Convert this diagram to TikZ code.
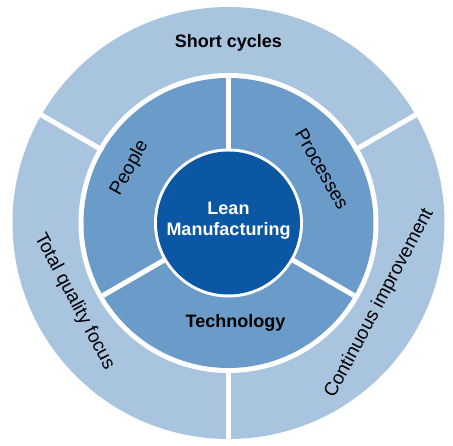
\documentclass[tikz,border=0pt]{standalone}
\usepackage{fontspec}
\setmainfont{Liberation Sans}
\usetikzlibrary{
  backgrounds,  % Predefined layer named "background"
}
\definecolor{outerblue}{HTML}{A9C4DF}
\definecolor{midblue}{HTML}{6B9CC9}
\definecolor{coreblue}{HTML}{0C57A3}
\def\rcore{71.5pt}
\def\rcorerim{74.5pt}
\def\rmid{145pt}
\def\rmidrim{150pt}
\def\router{216pt}
\def\gapwidth{5pt}
\tikzset{
  font=\fontsize{19}{22}\selectfont,
  gap/.style={
    draw=white,
    line width=\gapwidth
  },
  my label/.style={
    text=black,
    inner sep=0pt
  },
  my bold label/.style={
    my label,
    font=\fontsize{18}{21}\selectfont\bfseries
  }
}

\begin{document}
\begin{tikzpicture}[x=1pt,y=1pt]
\useasboundingbox (-228.5,-223) rectangle (224.5,223);
% rings
\fill[outerblue] (0,0) circle[radius=\router];
\fill[white]     (0,0) circle[radius=\rmidrim];
\fill[midblue]   (0,0) circle[radius=\rmid];
\foreach \a in {30,150,270}
  \draw[gap] (\a:\rmid) -- (\a:222pt);
\foreach \a in {90,210,330}
  \draw[gap] (\a:70pt) -- (\a:\rmid);
\fill[white]    (0,0) circle[radius=\rcorerim];
\fill[coreblue] (0,0) circle[radius=\rcore];
% labels
\node[my bold label,text=white,align=center] (lean) at (0,2) {Lean\\Manufacturing};
\node[my bold label] (shortcycles) at (0,180) {Short cycles};
\node[my bold label] (technology)  at (7,-100) {Technology};
\node[my label,rotate=61]  (people)      at (151:113pt) {People};
\node[my label,rotate=-60] (processes)   at (30:108pt)  {Processes};
\node[my label,rotate=-62] (quality)     at (207:173pt) {Total quality focus};
\node[my label,rotate=62]  (improvement) at (-28:171pt) {Continuous improvement};
\end{tikzpicture}
\end{document}
